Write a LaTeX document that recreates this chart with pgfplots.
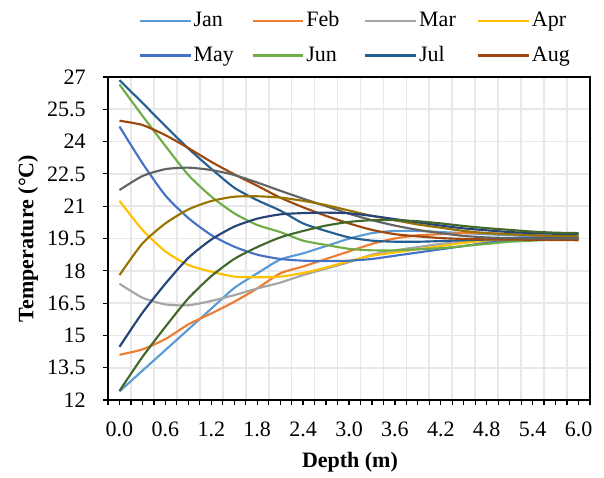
\documentclass[border=0pt]{standalone}
\usepackage{fontspec}
\setmainfont{Liberation Serif}
\usepackage{pgfplots}
\usepackage{pgfplotstable}
\pgfplotsset{compat=1.18}
\definecolor{cJan}{HTML}{5B9BD5}
\definecolor{cFeb}{HTML}{ED7D31}
\definecolor{cMar}{HTML}{A5A5A5}
\definecolor{cApr}{HTML}{FFC000}
\definecolor{cMay}{HTML}{4472C4}
\definecolor{cJun}{HTML}{70AD47}
\definecolor{cJul}{HTML}{255E91}
\definecolor{cAug}{HTML}{9E480E}
\definecolor{cSep}{HTML}{636363}
\definecolor{cOct}{HTML}{997300}
\definecolor{cNov}{HTML}{264478}
\definecolor{cDec}{HTML}{43682B}
\definecolor{gridc}{HTML}{E8E8E8}

% soil temperature by depth, one column per month
\pgfplotstableread{
d   Jan   Feb   Mar   Apr   May   Jun   Jul   Aug   Sep   Oct   Nov   Dec
0.0 12.40 14.10 17.40 21.25 24.70 26.65 26.85 24.97 21.75 17.80 14.47 12.42
0.3 13.36 14.35 16.75 19.90 23.00 25.20 25.80 24.77 22.40 19.27 16.05 14.00
0.6 14.32 14.83 16.44 18.90 21.50 23.80 24.72 24.30 22.72 20.20 17.40 15.40
0.9 15.28 15.51 16.40 18.27 20.45 22.45 23.68 23.70 22.79 20.85 18.60 16.72
1.2 16.24 16.02 16.60 17.96 19.66 21.45 22.74 23.06 22.68 21.24 19.45 17.75
1.5 17.20 16.56 16.87 17.73 19.12 20.67 21.86 22.48 22.45 21.44 20.05 18.55
1.8 17.88 17.18 17.18 17.70 18.75 20.13 21.28 21.95 22.10 21.46 20.42 19.10
2.1 18.52 17.88 17.45 17.73 18.55 19.80 20.80 21.40 21.72 21.40 20.62 19.55
2.4 18.81 18.20 17.80 17.90 18.47 19.40 20.20 20.95 21.35 21.25 20.68 19.85
2.7 19.15 18.55 18.10 18.15 18.45 19.20 19.85 20.55 21.00 21.05 20.70 20.10
3.0 19.49 18.90 18.40 18.45 18.47 19.02 19.55 20.20 20.65 20.80 20.67 20.27
3.3 19.75 19.25 18.75 18.70 18.55 18.95 19.40 19.90 20.35 20.55 20.55 20.35
3.6 19.85 19.50 18.95 18.85 18.70 18.95 19.35 19.70 20.10 20.35 20.40 20.35
3.9 19.85 19.65 19.10 19.00 18.85 19.00 19.35 19.60 19.90 20.15 20.25 20.30
4.2 19.80 19.70 19.25 19.15 19.00 19.05 19.38 19.52 19.75 20.00 20.10 20.20
4.5 19.75 19.75 19.35 19.30 19.15 19.15 19.42 19.48 19.62 19.85 19.97 20.08
4.8 19.70 19.75 19.40 19.40 19.30 19.25 19.45 19.46 19.55 19.75 19.88 19.98
5.1 19.65 19.70 19.45 19.45 19.40 19.35 19.50 19.45 19.52 19.70 19.80 19.90
5.4 19.60 19.65 19.50 19.50 19.45 19.40 19.52 19.44 19.50 19.65 19.75 19.82
5.7 19.55 19.60 19.50 19.50 19.50 19.45 19.55 19.43 19.50 19.62 19.72 19.77
6.0 19.50 19.55 19.50 19.50 19.50 19.50 19.55 19.42 19.50 19.60 19.70 19.75
}\soiltemp

\begin{document}
\fontsize{16.5bp}{19bp}\selectfont
\begin{tikzpicture}
\path[use as bounding box] (-81bp,-58.5bp) rectangle (372bp,300bp);
\begin{axis}[
    at={(0,0)}, anchor=south west,
    width=361.5bp, height=242.25bp, scale only axis,
    xmin=-0.15, xmax=6.15, ymin=12, ymax=27,
    axis line style={black, line width=1.1bp},
    xtick={0,0.6,...,6.0},
    minor xtick={-0.15,0.15,...,6.2},
    extra x ticks={0.3,0.9,...,5.8},
    extra x tick labels={},
    extra x tick style={grid=none},
    ytick={12,13.5,...,27},
    tick align=outside, tick pos=left,
    major tick length=4bp, minor tick length=4bp,
    tick style={black, line width=0.9bp},
    xmajorgrids=false, xminorgrids=true, ymajorgrids=true,
    grid style={gridc, line width=1.3bp},
    minor grid style={gridc, line width=1.3bp},
    /pgf/number format/assume math mode=true,
    xticklabel={\pgfmathprintnumber[fixed,fixed zerofill,precision=1]{\tick}},
    yticklabel={\pgfmathprintnumber{\tick}},
    xticklabel shift=7bp, yticklabel shift=7bp,
    xlabel={Depth (m)}, ylabel={Temperature (°C)},
    every axis x label/.style={at={(axis description cs:0.502,-0.192)}, anchor=center, font=\bfseries},
    every axis y label/.style={at={(axis description cs:-0.166,0.5)}, rotate=90, anchor=center, font=\bfseries},
    legend columns=4,
    legend cell align=left,
    legend style={draw=none, fill=none, at={(axis description cs:0.525,1.12)}, anchor=center,
        nodes={inner sep=1.5bp}, row sep=9bp,
        /tikz/every even column/.append style={column sep=5bp}},
    legend image code/.code={\draw[#1] (0bp,0bp) -- (38bp,0bp);},
    every axis plot/.append style={line width=1.6bp, smooth, tension=0.4},
]
\addplot[cJan] table[x=d,y=Jan] {\soiltemp}; \addlegendentry{\makebox[37bp][l]{Jan}}
\addplot[cFeb] table[x=d,y=Feb] {\soiltemp}; \addlegendentry{\makebox[37bp][l]{Feb}}
\addplot[cMar] table[x=d,y=Mar] {\soiltemp}; \addlegendentry{\makebox[37bp][l]{Mar}}
\addplot[cApr] table[x=d,y=Apr] {\soiltemp}; \addlegendentry{\makebox[37bp][l]{Apr}}
\addplot[cMay] table[x=d,y=May] {\soiltemp}; \addlegendentry{\makebox[37bp][l]{May}}
\addplot[cJun] table[x=d,y=Jun] {\soiltemp}; \addlegendentry{\makebox[37bp][l]{Jun}}
\addplot[cJul] table[x=d,y=Jul] {\soiltemp}; \addlegendentry{\makebox[37bp][l]{Jul}}
\addplot[cAug] table[x=d,y=Aug] {\soiltemp}; \addlegendentry{\makebox[37bp][l]{Aug}}
\addplot[cSep, forget plot] table[x=d,y=Sep] {\soiltemp};
\addplot[cOct, forget plot] table[x=d,y=Oct] {\soiltemp};
\addplot[cNov, forget plot] table[x=d,y=Nov] {\soiltemp};
\addplot[cDec, forget plot] table[x=d,y=Dec] {\soiltemp};
\end{axis}
\end{tikzpicture}
\end{document}
